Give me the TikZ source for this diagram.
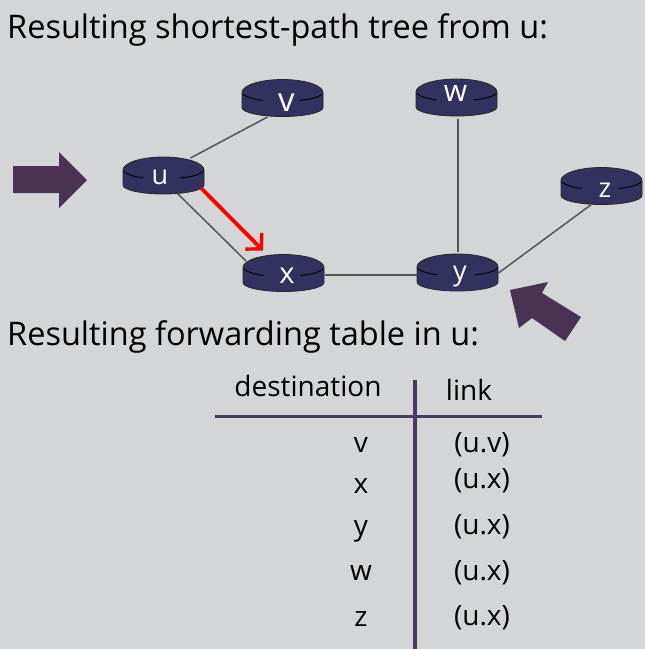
\documentclass[tikz,border=0pt]{standalone}
\usepackage{fontspec}
\setmainfont{Open Sans}
\usetikzlibrary{shapes.geometric,calc,arrows.meta}
\definecolor{bgc}{HTML}{D3D5D7}
\definecolor{routerc}{HTML}{33315E}
\definecolor{arrowc}{HTML}{4A3352}
\definecolor{linec}{HTML}{555555}
\definecolor{rulec}{HTML}{4A3A5E}
\tikzset{
  routerhit/.style={ellipse,minimum width=81pt,minimum height=37pt,inner sep=0pt},
  routerbody/.style={fill=routerc,draw=black!85,line width=0.8pt},
  routerarc/.style={draw=black,line width=0.9pt},
  routerlabel/.style={text=white,font=\fontsize{27}{27}\selectfont,inner sep=0pt,anchor=base},
  link/.style={draw=linec,line width=1.5pt},
  bigarrow/.style={fill=arrowc,draw=none},
  heading/.style={font=\fontsize{32.5}{34}\selectfont,text=black,inner sep=0pt,anchor=base west},
  cell/.style={font=\fontsize{28}{29}\selectfont,text=black,inner sep=0pt,anchor=base},
  tablerule/.style={draw=rulec,line width=3.2pt}
}
\newcommand{\router}[6]{%
  \node[routerhit] (#3) at (#1,#2) {};
  \path[routerbody] (#1-40.5,#2-5.5) arc[start angle=180,end angle=0,x radius=40.5pt,y radius=13pt]
     -- (#1+40.5,#2+9.5) arc[start angle=360,end angle=180,x radius=40.5pt,y radius=9pt] -- cycle;
  \path[routerarc] (#1-40,#2-4) .. controls (#1-36,#2-1) and (#1-30,#2+1) .. (#1-20,#2+2.5);
  \path[routerarc] (#1+40,#2-4) .. controls (#1+36,#2-1) and (#1+30,#2+1) .. (#1+17,#2+2.5);
  \node[routerlabel] (#3l) at (#1+#5,#2+#6) {#4};
}
\begin{document}
\begin{tikzpicture}[x=1pt,y=-1pt]
\useasboundingbox (0,0) rectangle (645,649);
\fill[bgc] (0,0) rectangle (645,649);
\node[heading] (title) at (7,38) {Resulting shortest-path tree from u:};
\node[heading] (title2) at (7,345) {Resulting forwarding table in u:};
% router nodes
\router{282.5}{98}{v}{\fontsize{33}{33}\selectfont v}{4}{13}
\router{163.5}{175.5}{u}{u}{-3.5}{9}
\router{283.5}{273}{x}{\fontsize{29}{29}\selectfont x}{3.5}{10}
\router{456.5}{97.5}{w}{\fontsize{30}{30}\selectfont w}{-1}{4}
\router{457.5}{272.5}{y}{y}{2.5}{8}
\router{601.5}{186}{z}{z}{3.5}{11}
% connectors
\draw[link] ($(u)+(27,-17.5)$) -- ($(v)+(-15,19)$);
\draw[link] ($(u)+(14,18)$) -- ($(x)+(-37.5,-12)$);
\draw[link] ($(x)+(41,2)$) -- ($(y)+(-40.5,2.5)$);
\draw[link] ($(y)+(0.5,-20.5)$) -- ($(w)+(1.5,21)$);
\draw[link] ($(y)+(41,0.5)$) -- ($(z)+(-9.5,18)$);
\draw[red,line width=3.8pt,-{Straight Barb[length=11pt,width=23pt,line width=3.4pt]}] ($(u)+(37.5,12.5)$) -- ($(x)+(-20.5,-22.5)$);
% big arrows
\path[bigarrow] (13,166) -- (59,166) -- (59,152) -- (87,180) -- (59,208) -- (59,193) -- (13,193) -- cycle;
\path[bigarrow] (510,290) -- (548,282) -- (542,293) -- (581,317) -- (565,341) -- (532,318) -- (519,328) -- cycle;
% table
\draw[tablerule] (215,416.5) -- (542,416.5);
\draw[tablerule] (415,380) -- (415,649);
\node[cell] (hd) at (308,396) {destination};
\node[cell] (hl) at (469,400) {link};
\node[cell] (d1) at (361,452) {v};
\node[cell] (d2) at (361,493) {x};
\node[cell] (d3) at (361,535) {y};
\node[cell] (d4) at (361,580) {w};
\node[cell] (d5) at (361,626) {z};
\node[cell] (l1) at (482,452) {(u.v)};
\node[cell] (l2) at (482,488) {(u.x)};
\node[cell] (l3) at (482,534) {(u.x)};
\node[cell] (l4) at (482,580) {(u.x)};
\node[cell] (l5) at (482,625) {(u.x)};
\end{tikzpicture}
\end{document}
